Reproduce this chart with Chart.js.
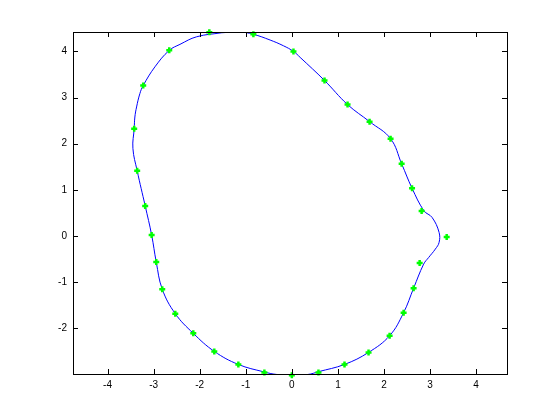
<!DOCTYPE html>
<html>
<head>
<meta charset="utf-8">
<script src="https://cdn.jsdelivr.net/npm/chart.js@4"></script>
<style>
  html, body { margin: 0; padding: 0; background: #fff; }
  canvas { display: block; }
</style>
</head>
<body>
<canvas id="plot" width="560" height="420"></canvas>
<script>
// tick labels
const xTicks = [-4, -3, -2, -1, 0, 1, 2, 3, 4];
const yTicks = [-2, -1, 0, 1, 2, 3, 4];

// green sample points (clockwise from the top)
const sampleX = [0.035, 0.709, 1.209, 1.687, 2.143, 2.383, 2.609, 2.817, 3.361, 2.774,
  2.643, 2.426, 2.122, 1.665, 1.143, 0.578, 0.0, -0.596, -1.161, -1.683,
  -2.139, -2.530, -2.813, -2.943, -3.043, -3.183, -3.357, -3.422, -3.226, -2.661,
  -1.791, -0.835];
const sampleY = [4.000, 3.370, 2.848, 2.478, 2.109, 1.565, 1.035, 0.543, -0.022, -0.587,
  -1.130, -1.661, -2.161, -2.522, -2.783, -2.957, -3.015, -2.957, -2.783, -2.500,
  -2.109, -1.683, -1.152, -0.565, 0.022, 0.652, 1.413, 2.326, 3.261, 4.022,
  4.413, 4.370];

// blue smooth curve (closed loop)
const curveX = [-1.522, -1.146, -0.835, -0.472, -0.183, 0.035, 0.180, 0.709, 1.209, 1.687,
  2.143, 2.383, 2.609, 2.870, 3.043, 3.196, 3.196, 3.115, 2.970, 2.861,
  2.643, 2.426, 2.122, 1.665, 1.143, 0.578, 0.350, 0.000, -0.330, -0.610,
  -1.161, -1.683, -2.139, -2.530, -2.813, -2.943, -3.043, -3.183, -3.357, -3.450,
  -3.422, -3.407, -3.370, -3.298, -3.226, -2.972, -2.661, -2.428, -2.065, -1.522];
const curveY = [4.404, 4.425, 4.370, 4.246, 4.122, 4.000, 3.870, 3.370, 2.848, 2.478,
  2.109, 1.565, 1.035, 0.543, 0.404, 0.078, -0.139, -0.283, -0.465, -0.609,
  -1.130, -1.661, -2.161, -2.522, -2.783, -2.940, -3.000, -3.010, -3.000, -2.943,
  -2.783, -2.500, -2.109, -1.683, -1.152, -0.565, 0.022, 0.652, 1.413, 1.900,
  2.326, 2.578, 2.796, 3.087, 3.261, 3.665, 4.022, 4.152, 4.317, 4.404];

const toXY = (xs, ys) => xs.map((x, i) => ({ x, y: ys[i] }));

// box + inward ticks on all four sides, MATLAB style
const boxPlugin = {
  id: 'box',
  afterDraw(chart) {
    const { ctx, chartArea: a, scales } = chart;
    const len = 5;
    ctx.save();
    ctx.strokeStyle = '#000';
    ctx.lineWidth = 1;
    ctx.beginPath();
    for (const v of xTicks) {
      const px = Math.round(scales.x.getPixelForValue(v)) + 0.5;
      ctx.moveTo(px, a.bottom); ctx.lineTo(px, a.bottom - len);
      ctx.moveTo(px, a.top); ctx.lineTo(px, a.top + len);
    }
    for (const v of yTicks) {
      const py = Math.round(scales.y.getPixelForValue(v)) + 0.5;
      ctx.moveTo(a.left, py); ctx.lineTo(a.left + len, py);
      ctx.moveTo(a.right, py); ctx.lineTo(a.right - len, py);
    }
    ctx.stroke();
    ctx.strokeRect(Math.round(a.left) + 0.5, Math.round(a.top) + 0.5,
      Math.round(a.right - a.left), Math.round(a.bottom - a.top));
    ctx.restore();
  }
};

const tickFont = { family: "'Liberation Sans', Arial, sans-serif", size: 10 };

new Chart(document.getElementById('plot'), {
  type: 'scatter',
  data: {
    datasets: [
      {
        data: toXY(sampleX, sampleY),
        showLine: false,
        pointStyle: 'cross',
        pointRadius: 3,
        pointBorderWidth: 2.5,
        pointBorderColor: '#00ff00',
        pointBackgroundColor: '#00ff00',
        clip: false,
        order: 0,
      },
      {
        data: toXY(curveX, curveY),
        showLine: true,
        borderColor: '#0000ff',
        borderWidth: 1,
        tension: 0.4,
        pointRadius: 0,
        order: 1,
      }
    ]
  },
  plugins: [boxPlugin],
  options: {
    responsive: false,
    animation: false,
    events: [],
    layout: { padding: { left: 0, right: 53, top: 32, bottom: 0 } },
    plugins: { legend: { display: false }, tooltip: { enabled: false } },
    scales: {
      x: {
        type: 'linear',
        min: -4.75,
        max: 4.67,
        afterBuildTicks: (s) => { s.ticks = xTicks.map(v => ({ value: v })); },
        afterFit: (s) => { s.height = 46; },
        grid: { display: false, drawTicks: false },
        border: { display: false },
        ticks: { color: '#000', font: tickFont, padding: 5, maxRotation: 0 }
      },
      y: {
        type: 'linear',
        min: -2.99,
        max: 4.42,
        afterBuildTicks: (s) => { s.ticks = yTicks.map(v => ({ value: v })); },
        afterFit: (s) => { s.width = 73; },
        grid: { display: false, drawTicks: false },
        border: { display: false },
        ticks: { color: '#000', font: tickFont, padding: 6 }
      }
    }
  }
});
</script>
</body>
</html>
